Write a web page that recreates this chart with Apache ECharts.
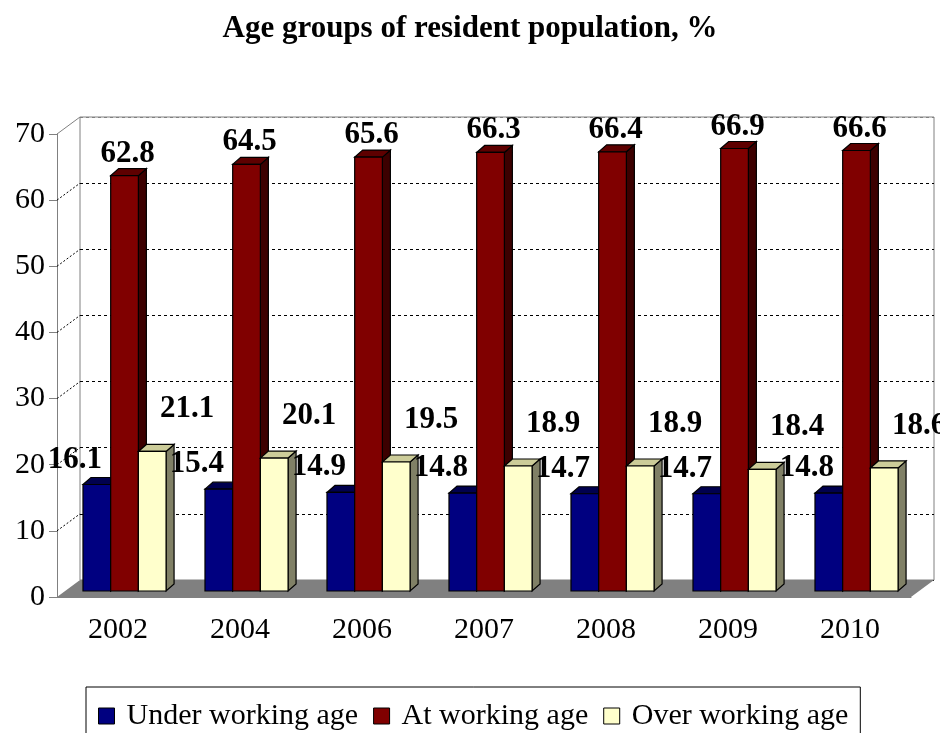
<!DOCTYPE html>
<html>
<head>
<meta charset="utf-8">
<script src="https://cdn.jsdelivr.net/npm/echarts@6/dist/echarts.min.js"></script>
<style>
html, body { margin: 0; padding: 0; background: #fff; }
#main { width: 940px; height: 733px; }
</style>
</head>
<body>
<div id="main"></div>
<script>
var categories = ['2002', '2004', '2006', '2007', '2008', '2009', '2010'];
var underWorking = [16.1, 15.4, 14.9, 14.8, 14.7, 14.7, 14.8];
var atWorking = [62.8, 64.5, 65.6, 66.3, 66.4, 66.9, 66.6];
var overWorking = [21.1, 20.1, 19.5, 18.9, 18.9, 18.4, 18.6];
var seriesNames = ['Under working age', 'At working age', 'Over working age'];

var FONT = "'Liberation Serif', 'Times New Roman', serif";
// front plane of the grid, depth offset to the back wall
var gridL = 57, gridR = 29, gridT = 134, gridB = 136;
var depthX = 23, depthY = 17;

// colours: front, top, side
var faces = [
	['#000080', '#00004e', '#00003a'],
	['#800000', '#5e0000', '#3c0000'],
	['#ffffcc', '#cccc99', '#808066']
];
// label offset per series, relative to front-face centre / top
var labelShift = [[-22, -25], [3, -22], [35, -42]];

function boxItem(sIdx) {
	return function (params, api) {
		var i = api.value(0), v = api.value(1);
		var base = api.coord([i, 0]);
		var top = api.coord([i, v]);
		var band = api.size([1, 0])[0];
		var w = band * 0.227;
		var x0 = base[0] - band * 0.287 + sIdx * w;
		var x1 = x0 + w;
		var lift = 6, dx = 8, dy = 7;
		var yb = base[1] - lift, yt = top[1] - lift;
		var c = faces[sIdx];
		var stroke = { stroke: '#000', lineWidth: 1.2 };
		return {
			type: 'group',
			children: [
				{ type: 'polygon', shape: { points: [[x1, yt], [x1 + dx, yt - dy], [x1 + dx, yb - dy], [x1, yb]] },
					style: Object.assign({ fill: c[2] }, stroke) },
				{ type: 'polygon', shape: { points: [[x0, yt], [x1, yt], [x1 + dx, yt - dy], [x0 + dx, yt - dy]] },
					style: Object.assign({ fill: c[1] }, stroke) },
				{ type: 'rect', shape: { x: x0, y: yt, width: w, height: yb - yt },
					style: Object.assign({ fill: c[0] }, stroke) },
				{ type: 'text', z2: 100,
					style: {
						text: v.toFixed(1),
						x: x0 + w / 2 + labelShift[sIdx][0],
						y: yt + labelShift[sIdx][1],
						align: 'center', verticalAlign: 'middle',
						fontFamily: FONT, fontWeight: 'bold', fontSize: 31, fill: '#000'
					} }
			]
		};
	};
}

function pairs(arr) {
	return arr.map(function (val, i) { return [i, val]; });
}

var myChart = echarts.init(document.getElementById('main'));
var option = {
	animation: false,
	title: {
		text: 'Age groups of resident population, %',
		left: 'center', top: 13, padding: 0,
		textStyle: { fontFamily: FONT, fontWeight: 'bold', fontSize: 31, color: '#000' }
	},
	legend: {
		data: seriesNames,
		left: 86, top: 687,
		padding: [14, 12, 20, 12],
		borderColor: '#000', borderWidth: 1,
		itemWidth: 16, itemHeight: 16, itemGap: 15,
		icon: 'rect',
		itemStyle: { borderColor: '#000', borderWidth: 1 },
		textStyle: { fontFamily: FONT, fontSize: 30, color: '#000', padding: [0, 0, 0, 7] }
	},
	grid: [
		{ left: gridL, right: gridR, top: gridT, bottom: gridB },
		{ left: gridL + depthX, right: gridR - depthX, top: gridT - depthY, bottom: gridB + depthY,
			show: true, borderColor: '#808080', borderWidth: 1 }
	],
	xAxis: [
		{
			type: 'category', data: categories, gridIndex: 0,
			axisLine: { lineStyle: { color: '#808080', width: 1 } },
			axisTick: { length: 8, lineStyle: { color: '#808080' } },
			axisLabel: { margin: 18, fontFamily: FONT, fontSize: 30, color: '#000' }
		},
		{ type: 'value', gridIndex: 1, min: 0, max: 1, show: false }
	],
	yAxis: [
		{
			type: 'value', gridIndex: 0, min: 0, max: 70, interval: 10,
			axisLine: { show: true, lineStyle: { color: '#808080', width: 1 } },
			axisTick: { show: true, length: 8, lineStyle: { color: '#808080' } },
			axisLabel: { margin: 12, fontFamily: FONT, fontSize: 30, color: '#000' },
			splitLine: { show: false }
		},
		{
			type: 'value', gridIndex: 1, min: 0, max: 70, interval: 10,
			axisLine: { show: false }, axisTick: { show: false }, axisLabel: { show: false },
			splitLine: { show: true, lineStyle: {
				color: ['#000', '#000', '#000', '#000', '#000', '#000', '#000', '#808080'],
				type: [3, 3], width: 1 } }
		}
	],
	series: [
		{ name: seriesNames[0], type: 'custom', renderItem: boxItem(0), data: pairs(underWorking),
			itemStyle: { color: faces[0][0] }, encode: { x: 0, y: 1 } },
		{ name: seriesNames[1], type: 'custom', renderItem: boxItem(1), data: pairs(atWorking),
			itemStyle: { color: faces[1][0] }, encode: { x: 0, y: 1 } },
		{ name: seriesNames[2], type: 'custom', renderItem: boxItem(2), data: pairs(overWorking),
			itemStyle: { color: faces[2][0] }, encode: { x: 0, y: 1 } }
	]
};
myChart.setOption(option);

// floor and left side wall lines of the 3D box
var y0 = myChart.convertToPixel({ yAxisIndex: 0 }, 0);
var xr = 940 - gridR;
var els = [{
	type: 'polygon', z: 1,
	shape: { points: [[gridL, y0], [xr, y0], [xr + depthX, y0 - depthY], [gridL + depthX, y0 - depthY]] },
	style: { fill: '#808080' }
}];
for (var v = 10; v <= 70; v += 10) {
	var yy = myChart.convertToPixel({ yAxisIndex: 0 }, v);
	els.push({
		type: 'line', z: 1,
		shape: { x1: gridL, y1: yy, x2: gridL + depthX, y2: yy - depthY },
		style: v === 70 ? { stroke: '#808080', lineWidth: 1 } : { stroke: '#000', lineWidth: 1, lineDash: [2, 2] }
	});
}
myChart.setOption({ graphic: els });
</script>
</body>
</html>
